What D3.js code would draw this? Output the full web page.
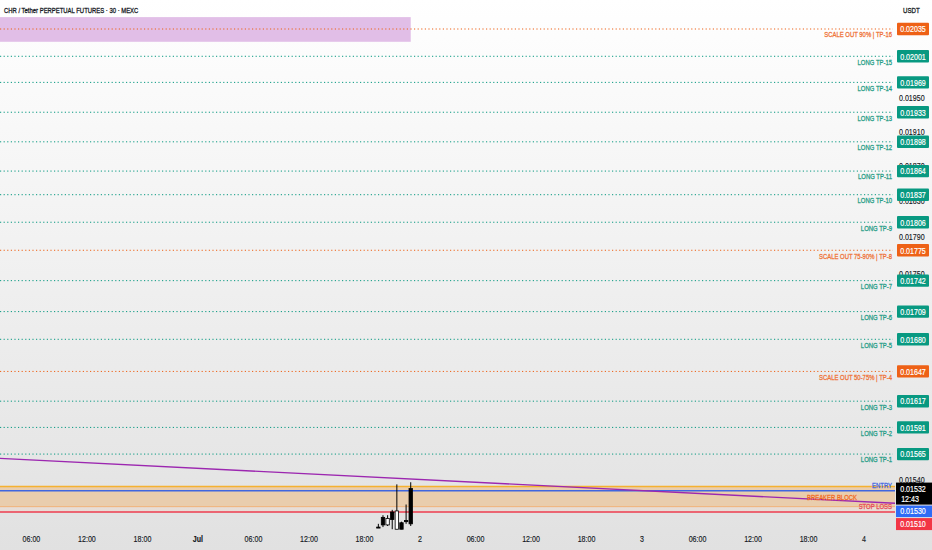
<!DOCTYPE html>
<html lang="en">
<head>
  <meta charset="UTF-8" />
  <title>CHR / Tether PERPETUAL FUTURES - 30 - MEXC</title>
  <style>
    body {
      margin: 0;
      background: #ffffff;
    }
    svg {
      display: block;
      font-family: "Liberation Sans", Arial, sans-serif;
    }
    text {
      stroke-width: 0.3px;
    }
    .tp-line {
      stroke-width: 1px;
      stroke-dasharray: 1.2 2.4;
    }
    .tp-text {
      font-size: 7.7px;
      text-anchor: end;
    }
    .box-text {
      font-size: 9.2px;
      fill: #ffffff;
      stroke: #ffffff;
      stroke-width: 0.2px;
      text-anchor: middle;
    }
    .tick-text {
      font-size: 9.2px;
      fill: #131722;
      stroke: #131722;
      stroke-width: 0.15px;
    }
    .time-text {
      font-size: 9.2px;
      fill: #131722;
      stroke: #131722;
      stroke-width: 0.15px;
      text-anchor: middle;
    }
  </style>
  <script src="https://d3js.org/d3.v7.min.js"></script>
</head>
<body>
  <svg id="chart" width="932" height="550"></svg>

  <script>
    // take-profit levels (top to bottom)
    const tpPrices = [0.02035, 0.02001, 0.01969, 0.01933, 0.01898, 0.01864, 0.01837, 0.01806,
                      0.01775, 0.01742, 0.01709, 0.01680, 0.01647, 0.01617, 0.01591, 0.01565];
    const tpLabels = ["SCALE OUT 90% | TP-16", "LONG TP-15", "LONG TP-14", "LONG TP-13", "LONG TP-12",
                      "LONG TP-11", "LONG TP-10", "LONG TP-9", "SCALE OUT 75-90% | TP-8", "LONG TP-7",
                      "LONG TP-6", "LONG TP-5", "SCALE OUT 50-75% | TP-4", "LONG TP-3", "LONG TP-2", "LONG TP-1"];
    const tpKinds = ["scale", "long", "long", "long", "long", "long", "long", "long",
                     "scale", "long", "long", "long", "scale", "long", "long", "long"];

    // plain price-scale ticks that show through
    const tickPrices = [0.01950, 0.01910, 0.01870, 0.01830, 0.01790, 0.01750, 0.01540];

    // 30m candles
    const candleTimes = ["2025-07-01T19:30Z", "2025-07-01T20:00Z", "2025-07-01T20:30Z", "2025-07-01T21:00Z",
                         "2025-07-01T21:30Z", "2025-07-01T22:00Z", "2025-07-01T22:30Z", "2025-07-01T23:00Z"];
    const candleOpen  = [0.01496, 0.01498, 0.01504, 0.01503, 0.01511, 0.01494, 0.01501, 0.01499];
    const candleHigh  = [0.01499, 0.01507, 0.01507, 0.01512, 0.01536, 0.01501, 0.01517, 0.01538];
    const candleLow   = [0.01496, 0.01496, 0.01497, 0.01494, 0.01494, 0.01494, 0.01499, 0.01497];
    const candleClose = [0.01496, 0.01505, 0.01498, 0.01510, 0.01494, 0.01500, 0.01502, 0.01532];

    const lastPrice = 0.01532;
    const countdown = "12:43";
    const entryPrice = 0.01530;
    const stopPrice = 0.01510;
    const blockPrices = [0.01534, 0.01515];

    // purple trend line and purple target zone
    const trendTimes = ["2025-06-30T00:00Z", "2025-07-04T06:00Z"];
    const trendPrices = [0.01562, 0.01517];
    const zoneTimes = ["2025-06-29T00:00Z", "2025-07-01T23:00Z"];
    const zonePrices = [0.02050, 0.02019];

    const W = 932, H = 550;
    const plotRight = 895;
    const plotBottom = 530;
    const squeeze = 0.77; // text in the screenshot is horizontally narrow

    const svg = d3.select("#chart");
    const x = d3.scaleUtc()
      .domain([new Date("2025-06-30T02:36Z"), new Date("2025-07-04T03:21Z")])
      .range([0, plotRight]);
    const y = d3.scaleLog()
      .domain([0.014933, 0.020718])
      .range([plotBottom, 0]);

    const green = "#089981", greenText = "#1f9c85";
    const orange = "#ee6116", orangeText = "#ef7236";
    const fmt = d3.format(".5f");

    function label(parent, px, py, str, cls, sq = squeeze) {
      return parent.append("text")
        .attr("class", cls)
        .attr("transform", `translate(${px},${py}) scale(${sq},1)`)
        .text(str);
    }

    // background gradient
    const defs = svg.append("defs");
    const grad = defs.append("linearGradient")
      .attr("id", "bg").attr("x1", 0).attr("y1", 0).attr("x2", 0).attr("y2", 1);
    grad.append("stop").attr("offset", "0%").attr("stop-color", "#ffffff");
    grad.append("stop").attr("offset", "100%").attr("stop-color", "#e1e1e1");
    svg.append("rect").attr("width", W).attr("height", H).attr("fill", "url(#bg)");

    defs.append("clipPath").attr("id", "plot")
      .append("rect").attr("width", plotRight).attr("height", plotBottom);
    const plot = svg.append("g").attr("clip-path", "url(#plot)");

    // purple zone
    plot.append("rect")
      .attr("x", x(new Date(zoneTimes[0])))
      .attr("y", y(zonePrices[0]))
      .attr("width", x(new Date(zoneTimes[1])) - x(new Date(zoneTimes[0])))
      .attr("height", y(zonePrices[1]) - y(zonePrices[0]))
      .attr("fill", "#e1bee7");

    // breaker block band
    plot.append("rect")
      .attr("x", 0).attr("width", plotRight)
      .attr("y", y(blockPrices[1]))
      .attr("height", y(stopPrice) - y(blockPrices[1]))
      .attr("fill", "rgba(255,190,140,0.15)");
    plot.append("rect")
      .attr("x", 0).attr("width", plotRight)
      .attr("y", y(blockPrices[0]))
      .attr("height", y(blockPrices[1]) - y(blockPrices[0]))
      .attr("fill", "rgba(245,160,60,0.32)");
    plot.append("line")
      .attr("x1", 0).attr("x2", plotRight)
      .attr("y1", y(blockPrices[0])).attr("y2", y(blockPrices[0]))
      .attr("stroke", "#f5b12f").attr("stroke-width", 1.5);
    plot.append("line")
      .attr("x1", 0).attr("x2", plotRight)
      .attr("y1", y(blockPrices[1])).attr("y2", y(blockPrices[1]))
      .attr("stroke", "#f2b378").attr("stroke-width", 1);

    // TP dotted lines
    tpPrices.forEach((p, i) => {
      const c = tpKinds[i] === "scale" ? orange : green;
      const tc = tpKinds[i] === "scale" ? orangeText : greenText;
      plot.append("line")
        .attr("class", "tp-line")
        .attr("x1", 0).attr("x2", 893)
        .attr("y1", y(p)).attr("y2", y(p))
        .attr("stroke", c);
      label(svg, 892, y(p) + 8.4, tpLabels[i], "tp-text")
        .attr("fill", tc).attr("stroke", tc);
    });

    // entry + stop
    plot.append("line")
      .attr("x1", 0).attr("x2", plotRight)
      .attr("y1", y(entryPrice)).attr("y2", y(entryPrice))
      .attr("stroke", "#3f66e0").attr("stroke-width", 1.6);
    plot.append("line")
      .attr("x1", 0).attr("x2", plotRight)
      .attr("y1", y(stopPrice)).attr("y2", y(stopPrice))
      .attr("stroke", "#ee3d4f").attr("stroke-width", 1.4);

    // trend line
    plot.append("line")
      .attr("x1", x(new Date(trendTimes[0]))).attr("y1", y(trendPrices[0]))
      .attr("x2", x(new Date(trendTimes[1]))).attr("y2", y(trendPrices[1]))
      .attr("stroke", "#9c27b0").attr("stroke-width", 1.4);

    label(svg, 892, y(entryPrice) - 3, "ENTRY", "tp-text")
      .attr("fill", "#3f66e0").attr("stroke", "#3f66e0");
    label(svg, 857, (y(blockPrices[0]) + y(blockPrices[1])) / 2 + 3, "BREAKER BLOCK", "tp-text")
      .attr("fill", "#f26a1f").attr("stroke", "#f26a1f");
    label(svg, 892, y(stopPrice) - 3, "STOP LOSS", "tp-text")
      .attr("fill", "#e8485a").attr("stroke", "#e8485a");

    // candles
    const cw = 3.4;
    candleTimes.forEach((t, i) => {
      const cx = x(new Date(t));
      const up = candleClose[i] >= candleOpen[i];
      plot.append("line")
        .attr("x1", cx).attr("x2", cx)
        .attr("y1", y(candleHigh[i])).attr("y2", y(candleLow[i]))
        .attr("stroke", "#000").attr("stroke-width", 1);
      const top = y(Math.max(candleOpen[i], candleClose[i]));
      const bot = y(Math.min(candleOpen[i], candleClose[i]));
      plot.append("rect")
        .attr("x", cx - cw / 2).attr("width", cw)
        .attr("y", top).attr("height", Math.max(1, bot - top))
        .attr("fill", up ? "#000" : "#fff")
        .attr("stroke", "#000").attr("stroke-width", 0.8);
    });

    // title
    label(svg, 4, 13, "CHR / Tether PERPETUAL FUTURES · 30 · MEXC", "", 0.76)
      .attr("font-size", "7.8px").attr("fill", "#131722").attr("stroke", "#131722");
    label(svg, 903, 13, "USDT", "").attr("font-size", "8px")
      .attr("fill", "#131722").attr("stroke", "#131722").attr("stroke-width", 0.15);

    // price scale ticks
    tickPrices.forEach(p => {
      label(svg, 899, y(p) + 3.3, fmt(p), "tick-text");
    });

    // TP price boxes
    tpPrices.forEach((p, i) => {
      const c = tpKinds[i] === "scale" ? orange : green;
      svg.append("rect")
        .attr("x", 897).attr("width", 32)
        .attr("y", y(p) - 6.2).attr("height", 12.4)
        .attr("rx", 1).attr("fill", c);
      label(svg, 913, y(p) + 3.3, fmt(p), "box-text");
    });

    // last price box with countdown, then entry / stop boxes stacked under it
    const lastTop = y(lastPrice) - 6;
    svg.append("rect").attr("x", 896).attr("width", 36)
      .attr("y", lastTop).attr("height", 22).attr("fill", "#000");
    label(svg, 913, lastTop + 9, fmt(lastPrice), "box-text");
    label(svg, 910, lastTop + 19, countdown, "box-text");

    const entryTop = lastTop + 23;
    svg.append("rect").attr("x", 896).attr("width", 36)
      .attr("y", entryTop).attr("height", 11.5).attr("fill", "#2f6cf6");
    label(svg, 913, entryTop + 8.8, fmt(entryPrice), "box-text");

    const stopTop = entryTop + 12.5;
    svg.append("rect").attr("x", 896).attr("width", 36)
      .attr("y", stopTop).attr("height", 12).attr("fill", "#f23645");
    label(svg, 913, stopTop + 9, fmt(stopPrice), "box-text");

    // time axis
    const ticks = x.ticks(d3.utcHour.every(6)).filter(d => x(d) > 8 && x(d) < plotRight - 8);
    ticks.forEach(d => {
      let txt, bold = false;
      if (d.getUTCHours() === 0) {
        if (d.getUTCDate() === 1) { txt = d3.utcFormat("%b")(d); bold = true; }
        else txt = String(d.getUTCDate());
      } else {
        txt = d3.utcFormat("%H:%M")(d);
      }
      label(svg, x(d), 542, txt, "time-text")
        .attr("font-weight", bold ? "bold" : "normal");
    });
  </script>
</body>
</html>
